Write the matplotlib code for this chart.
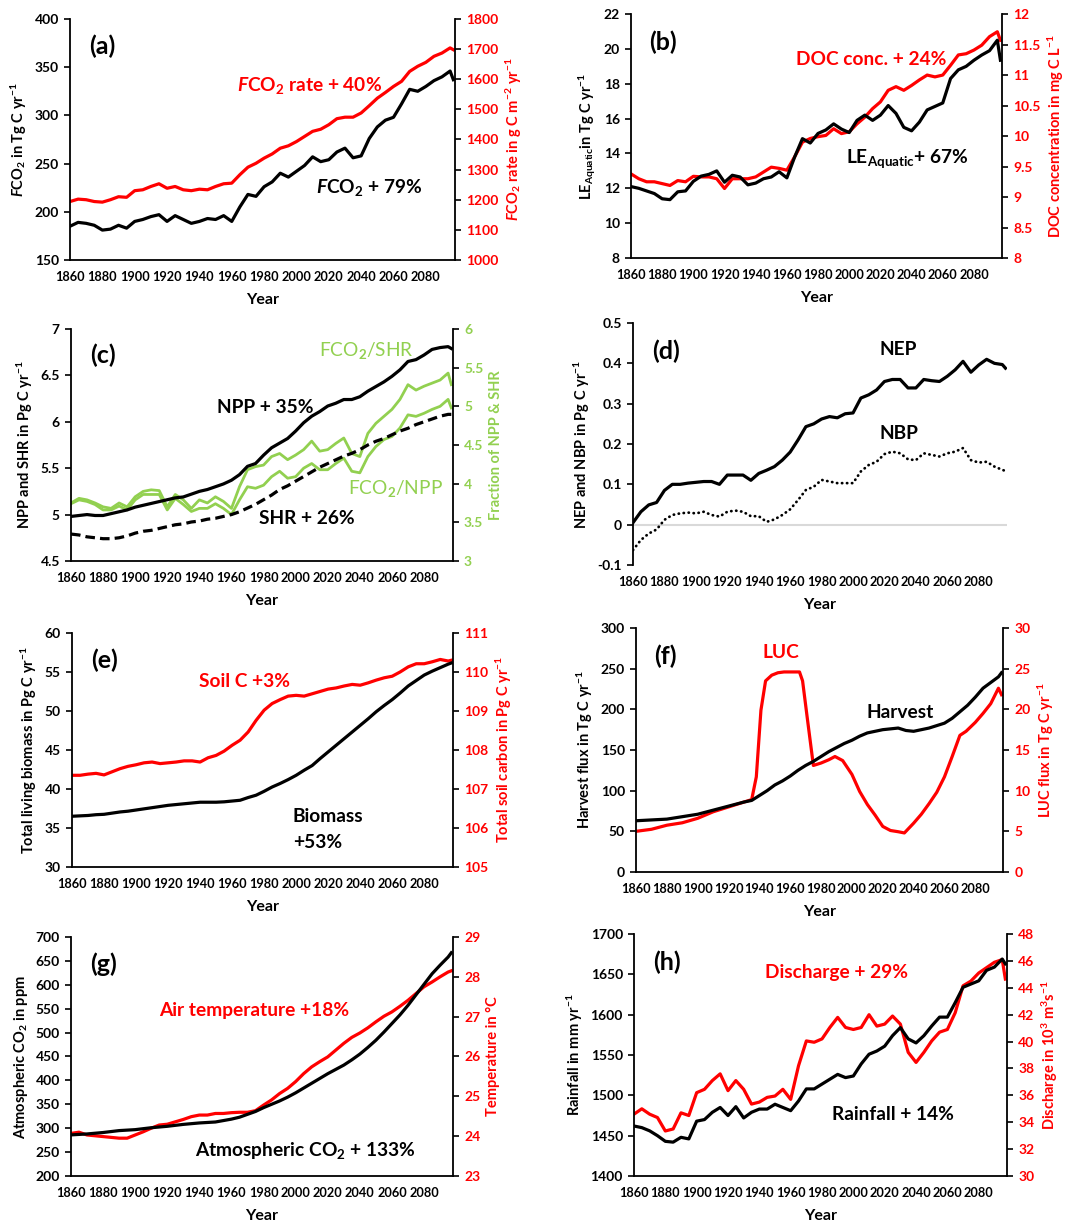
import matplotlib
matplotlib.use("Agg")
import matplotlib.pyplot as plt
from matplotlib.ticker import MultipleLocator, FuncFormatter

plt.rcParams.update({
    "font.family": "Lato",
    "font.weight": "bold",
    "axes.labelweight": "bold",
    "mathtext.fontset": "custom",
    "mathtext.rm": "Lato:bold",
    "mathtext.it": "Lato:bold:italic",
    "mathtext.bf": "Lato:bold",
    "axes.linewidth": 1.3,
})

RED = "#ff0000"
GREEN = "#92d050"

# ---- data (5-year steps) ----
YEARS = [1860, 1865, 1870, 1875, 1880, 1885, 1890, 1895, 1900,
         1905, 1910, 1915, 1920, 1925, 1930, 1935, 1940, 1945, 1950,
         1955, 1960, 1965, 1970, 1975, 1980, 1985, 1990, 1995, 2000,
         2005, 2010, 2015, 2020, 2025, 2030, 2035, 2040, 2045, 2050,
         2055, 2060, 2065, 2070, 2075, 2080, 2085, 2090, 2095, 2097]

# (a)
fco2 = [185, 189, 188, 186, 181, 182, 186, 183, 190,
        192, 195, 197, 190, 196, 192, 188, 190, 193, 192,
        196, 190, 205, 218, 216, 226, 231, 240, 236, 242,
        248, 257, 252, 254, 262, 266, 256, 258, 276, 288,
        295, 298, 312, 327, 325, 330, 336, 340, 346, 337]
fco2_rate = [1194, 1202, 1200, 1194, 1192, 1200, 1210, 1208, 1230,
             1233, 1244, 1253, 1238, 1244, 1233, 1230, 1235, 1233, 1244,
             1253, 1255, 1283, 1308, 1321, 1338, 1352, 1371, 1379, 1393,
             1410, 1427, 1434, 1449, 1469, 1474, 1474, 1488, 1512, 1537,
             1556, 1576, 1593, 1626, 1643, 1656, 1676, 1687, 1704, 1698]

# (b)
le_aquatic = [12.1, 12.0, 11.85, 11.7, 11.4, 11.35, 11.8, 11.85, 12.4,
              12.7, 12.8, 13.0, 12.35, 12.75, 12.65, 12.2, 12.3, 12.55, 12.65,
              12.95, 12.6, 13.8, 14.85, 14.6, 15.15, 15.35, 15.7, 15.4, 15.2,
              15.9, 16.2, 15.9, 16.2, 16.75, 16.3, 15.5, 15.3, 15.8, 16.5,
              16.7, 16.9, 18.3, 18.8, 19.0, 19.35, 19.65, 19.9, 20.5, 19.35]
doc_conc = [9.38, 9.3, 9.25, 9.25, 9.22, 9.19, 9.27, 9.25, 9.34,
            9.33, 9.33, 9.3, 9.14, 9.3, 9.3, 9.3, 9.33, 9.41, 9.49,
            9.47, 9.44, 9.66, 9.9, 9.96, 9.99, 10.01, 10.12, 10.04, 10.07,
            10.2, 10.31, 10.45, 10.56, 10.75, 10.81, 10.75, 10.83, 10.92, 11.0,
            10.97, 11.0, 11.16, 11.33, 11.35, 11.41, 11.49, 11.63, 11.71, 11.57]

# (c)
npp = [4.98, 4.99, 5.0, 4.99, 4.99, 5.01, 5.03, 5.05, 5.08,
       5.1, 5.12, 5.14, 5.16, 5.18, 5.19, 5.22, 5.25, 5.27, 5.3,
       5.33, 5.37, 5.43, 5.52, 5.55, 5.64, 5.72, 5.77, 5.82, 5.9,
       5.99, 6.06, 6.11, 6.17, 6.2, 6.24, 6.24, 6.27, 6.33, 6.38,
       6.43, 6.49, 6.56, 6.65, 6.67, 6.72, 6.78, 6.8, 6.81, 6.79]
shr = [4.79, 4.78, 4.76, 4.75, 4.74, 4.74, 4.75, 4.77, 4.8,
       4.82, 4.83, 4.85, 4.87, 4.89, 4.9, 4.92, 4.93, 4.95, 4.96,
       4.98, 5.0, 5.03, 5.07, 5.11, 5.16, 5.21, 5.27, 5.31, 5.36,
       5.41, 5.46, 5.51, 5.55, 5.59, 5.63, 5.66, 5.7, 5.75, 5.79,
       5.82, 5.86, 5.9, 5.93, 5.97, 6.0, 6.03, 6.06, 6.08, 6.08]
fco2_shr = [3.75, 3.81, 3.79, 3.75, 3.7, 3.68, 3.75, 3.7, 3.83,
            3.9, 3.92, 3.91, 3.7, 3.86, 3.79, 3.68, 3.79, 3.75, 3.83,
            3.77, 3.68, 3.96, 4.18, 4.22, 4.24, 4.35, 4.39, 4.31, 4.37,
            4.44, 4.55, 4.42, 4.44, 4.52, 4.59, 4.39, 4.35, 4.65, 4.78,
            4.87, 4.96, 5.09, 5.28, 5.21, 5.26, 5.3, 5.34, 5.43, 5.28]
fco2_npp = [3.74, 3.79, 3.77, 3.73, 3.66, 3.66, 3.71, 3.66, 3.79,
            3.86, 3.86, 3.86, 3.66, 3.81, 3.73, 3.64, 3.68, 3.68, 3.74,
            3.68, 3.6, 3.79, 3.96, 3.94, 3.98, 4.09, 4.16, 4.07, 4.09,
            4.2, 4.26, 4.18, 4.18, 4.26, 4.33, 4.16, 4.14, 4.35, 4.48,
            4.57, 4.61, 4.72, 4.89, 4.87, 4.91, 4.96, 5.0, 5.09, 4.98]

# (d)
nep = [0.005, 0.032, 0.049, 0.055, 0.085, 0.1, 0.1, 0.103, 0.105,
       0.107, 0.107, 0.1, 0.123, 0.123, 0.123, 0.11, 0.127, 0.135, 0.144,
       0.16, 0.18, 0.21, 0.243, 0.25, 0.262, 0.268, 0.265, 0.275, 0.277,
       0.314, 0.322, 0.334, 0.355, 0.36, 0.36, 0.339, 0.339, 0.36, 0.357,
       0.355, 0.368, 0.384, 0.405, 0.378, 0.396, 0.41, 0.4, 0.397, 0.388]
nbp = [-0.063, -0.038, -0.022, -0.012, 0.012, 0.024, 0.028, 0.03, 0.028,
       0.032, 0.024, 0.02, 0.032, 0.035, 0.032, 0.021, 0.021, 0.007, 0.013,
       0.024, 0.038, 0.061, 0.086, 0.094, 0.111, 0.107, 0.103, 0.103, 0.103,
       0.132, 0.148, 0.156, 0.175, 0.181, 0.177, 0.162, 0.16, 0.177, 0.173,
       0.169, 0.177, 0.181, 0.19, 0.16, 0.154, 0.156, 0.144, 0.136, 0.133]

# (e)
biomass = [36.5, 36.55, 36.6, 36.7, 36.75, 36.9, 37.05, 37.15, 37.3,
           37.45, 37.6, 37.75, 37.9, 38.0, 38.1, 38.2, 38.3, 38.3, 38.3,
           38.35, 38.45, 38.55, 38.9, 39.2, 39.7, 40.25, 40.7, 41.2, 41.75,
           42.4, 43.0, 43.9, 44.75, 45.6, 46.45, 47.3, 48.15, 49.0, 49.9,
           50.7, 51.45, 52.3, 53.2, 53.9, 54.6, 55.1, 55.55, 56.0, 56.15]
soil_c = [107.35, 107.35, 107.38, 107.4, 107.36, 107.44, 107.52, 107.58, 107.62,
          107.67, 107.69, 107.65, 107.67, 107.69, 107.72, 107.72, 107.69, 107.8, 107.86,
          107.97, 108.12, 108.25, 108.46, 108.76, 109.02, 109.19, 109.29, 109.38, 109.4,
          109.38, 109.44, 109.5, 109.56, 109.59, 109.64, 109.68, 109.66, 109.72, 109.79,
          109.85, 109.89, 110.0, 110.13, 110.21, 110.21, 110.26, 110.32, 110.28, 110.3]

# (f)
harvest = [63, 63.5, 64, 64.5, 65, 66.5, 68, 69.5, 71,
           73.5, 76, 78.5, 81, 83.5, 86, 88, 94, 100, 107,
           112, 118, 125, 131, 136, 142, 148, 153, 158, 162,
           167, 171, 173, 175, 176, 177, 174, 173, 175, 177,
           180, 183, 189, 197, 205, 215, 226, 233, 240, 245]
LUC_YEARS = [1860, 1870, 1880, 1890, 1900, 1910, 1920, 1930, 1935, 1938,
             1941, 1944, 1948, 1952, 1956, 1960, 1966, 1968, 1971, 1975,
             1980, 1985, 1989, 1994, 2000, 2005, 2010, 2015, 2020, 2025,
             2030, 2034, 2040, 2045, 2050, 2055, 2060, 2065, 2070, 2074,
             2080, 2085, 2090, 2095, 2097]
luc = [5.0, 5.25, 5.75, 6.05, 6.6, 7.4, 8.0, 8.6, 8.9, 11.7,
       19.9, 23.5, 24.2, 24.5, 24.6, 24.6, 24.6, 23.5, 19.0, 13.1,
       13.4, 13.8, 14.2, 13.7, 12.0, 9.9, 8.3, 7.0, 5.6, 5.1,
       4.95, 4.8, 6.0, 7.1, 8.4, 9.8, 11.7, 14.2, 16.8, 17.3,
       18.4, 19.5, 20.7, 22.6, 21.8]

# (g)
co2 = [286, 287, 288, 289.5, 291, 293, 295, 296, 297,
       299, 301, 302.5, 304, 306, 308, 309.5, 311, 312, 313,
       316, 319, 323, 329, 335, 343, 350, 357, 365, 374,
       384, 394, 404, 414, 423, 432, 443, 455, 469, 484,
       501, 519, 537, 557, 579, 601, 623, 641, 658, 667]
air_temp = [24.07, 24.1, 24.03, 24.01, 23.99, 23.97, 23.95, 23.95, 24.03,
            24.11, 24.2, 24.28, 24.3, 24.36, 24.42, 24.49, 24.53, 24.53, 24.57,
            24.57, 24.59, 24.6, 24.6, 24.64, 24.78, 24.91, 25.07, 25.2, 25.37,
            25.57, 25.74, 25.87, 25.99, 26.16, 26.33, 26.48, 26.59, 26.72, 26.87,
            27.01, 27.12, 27.26, 27.41, 27.58, 27.75, 27.87, 28.0, 28.12, 28.15]

# (h)
rainfall = [1462, 1460, 1456, 1450, 1443, 1442, 1448, 1446, 1468,
            1470, 1479, 1485, 1475, 1486, 1472, 1479, 1483, 1483, 1489,
            1485, 1481, 1493, 1508, 1508, 1514, 1520, 1526, 1522, 1524,
            1539, 1551, 1555, 1561, 1574, 1584, 1570, 1565, 1574, 1586,
            1597, 1597, 1615, 1634, 1638, 1642, 1655, 1659, 1669, 1663]
discharge = [34.6, 35.0, 34.6, 34.35, 33.35, 33.5, 34.7, 34.5, 36.2,
             36.45, 37.1, 37.6, 36.35, 37.1, 36.45, 35.35, 35.5, 35.85, 35.95,
             36.45, 35.7, 38.2, 40.05, 39.95, 40.2, 41.05, 41.8, 41.05, 40.9,
             41.05, 42.0, 41.15, 41.3, 41.9, 41.3, 39.2, 38.45, 39.2, 40.05,
             40.7, 40.9, 42.15, 44.15, 44.5, 45.1, 45.5, 45.9, 46.1, 44.65]

YEAR_TICKS = [1860, 1880, 1900, 1920, 1940, 1960, 1980, 2000, 2020, 2040, 2060, 2080]

FMT = FuncFormatter(lambda v, p: f"{v:g}")
LW = 2.3
ANN = 13.8
LBL = 10.5


def base(rect, ylim, ystep, ylabel, letter, bottom_spine=True):
    ax = fig.add_axes(rect)
    ax.set_xlim(1860, 2098)
    ax.set_xticks(YEAR_TICKS)
    ax.set_ylim(*ylim)
    ax.yaxis.set_major_locator(MultipleLocator(ystep))
    ax.yaxis.set_major_formatter(FMT)
    ax.tick_params(axis="x", length=0, labelsize=9.2, pad=8)
    ax.tick_params(axis="y", length=4, width=1.2, labelsize=10, pad=4)
    ax.spines["top"].set_visible(False)
    ax.spines["right"].set_visible(False)
    if not bottom_spine:
        ax.spines["bottom"].set_visible(False)
    ax.set_ylabel(ylabel, fontsize=LBL)
    ax.set_xlabel("Year", fontsize=11.5, labelpad=7)
    ax.text(0.05, 0.885, letter, transform=ax.transAxes, fontsize=18,
            fontweight="bold", va="center", ha="left")
    return ax


def twin(ax, ylim, ystep, ylabel, color):
    ax2 = ax.twinx()
    ax2.set_ylim(*ylim)
    ax2.yaxis.set_major_locator(MultipleLocator(ystep))
    ax2.yaxis.set_major_formatter(FMT)
    ax2.tick_params(axis="y", length=4, width=1.2, labelsize=10, pad=4,
                    colors=color)
    ax2.tick_params(axis="y", color="black")
    ax2.spines["top"].set_visible(False)
    ax2.spines["left"].set_visible(False)
    ax2.spines["bottom"].set_visible(False)
    ax2.spines["right"].set_linewidth(1.3)
    ax2.set_ylabel(ylabel, fontsize=LBL, color=color)
    return ax2


fig = plt.figure(figsize=(10.72, 12.24), dpi=100)

# (a)
ax = base([0.0653, 0.7876, 0.3591, 0.1969], (150, 400), 50,
          "$F$CO$_2$ in Tg C yr$^{-1}$", "(a)")
ax2 = twin(ax, (1000, 1800), 100, "$F$CO$_2$ rate in g C m$^{-2}$ yr$^{-1}$", RED)
ax2.plot(YEARS, fco2_rate, color=RED, lw=LW)
ax.plot(YEARS, fco2, color="black", lw=LW, zorder=5)
ax.set_zorder(ax2.get_zorder() + 1); ax.patch.set_visible(False)
ax.text(2008, 331, "$F$CO$_2$ rate + 40%", color=RED, fontsize=ANN, ha="center", va="center")
ax.text(2045, 225, "$F$CO$_2$ + 79%", color="black", fontsize=ANN, ha="center", va="center")

# (b)
ax = base([0.5886, 0.7892, 0.3461, 0.1993], (8, 22), 2,
          "LE$_{\\mathrm{Aquatic}}$in Tg C yr$^{-1}$", "(b)")
ax2 = twin(ax, (8, 12), 0.5, "DOC concentration in mg C L$^{-1}$", RED)
ax2.plot(YEARS, doc_conc, color=RED, lw=LW)
ax.plot(YEARS, le_aquatic, color="black", lw=LW)
ax.set_zorder(ax2.get_zorder() + 1); ax.patch.set_visible(False)
ax.text(2014, 19.4, "DOC conc. + 24%", color=RED, fontsize=ANN, ha="center", va="center")
ax.text(2037, 13.7, "LE$_{\\mathrm{Aquatic}}$+ 67%", color="black", fontsize=ANN,
        ha="center", va="center")

# (c)
ax = base([0.0662, 0.5417, 0.3563, 0.1895], (4.5, 7), 0.5,
          "NPP and SHR in Pg C yr$^{-1}$", "(c)")
ax2 = twin(ax, (3, 6), 0.5, "Fraction of NPP & SHR", GREEN)
ax2.plot(YEARS, fco2_shr, color=GREEN, lw=2.0)
ax2.plot(YEARS, fco2_npp, color=GREEN, lw=2.0)
ax.plot(YEARS, npp, color="black", lw=LW)
ax.plot(YEARS, shr, color="black", lw=LW, ls=(0, (3, 1.6)))
ax.set_zorder(ax2.get_zorder() + 1); ax.patch.set_visible(False)
ax.text(2044, 6.77, "FCO$_2$/SHR", color=GREEN, fontsize=ANN, ha="center", va="center",
        fontweight="normal")
ax.text(1981, 6.15, "NPP + 35%", color="black", fontsize=ANN, ha="center", va="center")
ax.text(2062, 5.28, "FCO$_2$/NPP", color=GREEN, fontsize=ANN, ha="center", va="center",
        fontweight="normal")
ax.text(2007, 4.96, "SHR + 26%", color="black", fontsize=ANN, ha="center", va="center")

# (d)
ax = base([0.5905, 0.5384, 0.3489, 0.1977], (-0.1, 0.5), 0.1,
          "NEP and NBP in Pg C yr$^{-1}$", "(d)", bottom_spine=False)
ax.axhline(0, color="#d9d9d9", lw=1.5, zorder=1)
ax.plot(YEARS, nep, color="black", lw=LW)
ax.plot(YEARS, nbp, color="black", lw=2.0, ls=(0, (0.1, 1.7)), dash_capstyle="round")
ax.text(2029, 0.435, "NEP", color="black", fontsize=ANN, ha="center", va="center")
ax.text(2029, 0.227, "NBP", color="black", fontsize=ANN, ha="center", va="center")

# (e)
ax = base([0.0672, 0.2917, 0.3554, 0.1912], (30, 60), 5,
          "Total living biomass in Pg C yr$^{-1}$", "(e)")
ax2 = twin(ax, (105, 111), 1, "Total soil carbon in Pg C yr$^{-1}$", RED)
ax2.plot(YEARS, soil_c, color=RED, lw=LW)
ax.plot(YEARS, biomass, color="black", lw=LW)
ax.set_zorder(ax2.get_zorder() + 1); ax.patch.set_visible(False)
ax.text(1968, 53.8, "Soil C +3%", color=RED, fontsize=ANN, ha="center", va="center")
ax.text(1998, 34.8, "Biomass\n+53%", color="black", fontsize=ANN, ha="left", va="center",
        linespacing=1.6)

# (f)
ax = base([0.5933, 0.2876, 0.3424, 0.1993], (0, 300), 50,
          "Harvest flux in Tg C yr$^{-1}$", "(f)")
ax2 = twin(ax, (0, 30), 5, "LUC flux in Tg C yr$^{-1}$", RED)
ax2.plot(LUC_YEARS, luc, color=RED, lw=LW)
ax.plot(YEARS, harvest, color="black", lw=LW)
ax.set_zorder(ax2.get_zorder() + 1); ax.patch.set_visible(False)
ax.text(1954, 270, "LUC", color=RED, fontsize=ANN, ha="center", va="center")
ax.text(2031, 196, "Harvest", color="black", fontsize=ANN, ha="center", va="center")

# (g)
ax = base([0.0662, 0.0392, 0.3563, 0.1953], (200, 700), 50,
          "Atmospheric CO$_2$ in ppm", "(g)")
ax2 = twin(ax, (23, 29), 1, "Temperature in °C", RED)
ax2.plot(YEARS, air_temp, color=RED, lw=LW)
ax.plot(YEARS, co2, color="black", lw=LW)
ax.set_zorder(ax2.get_zorder() + 1); ax.patch.set_visible(False)
ax.text(1974, 547, "Air temperature +18%", color=RED, fontsize=ANN, ha="center", va="center")
ax.text(2006, 254, "Atmospheric CO$_2$ + 133%", color="black", fontsize=ANN,
        ha="center", va="center")

# (h)
ax = base([0.5914, 0.0392, 0.3479, 0.1977], (1400, 1700), 50,
          "Rainfall in mm yr$^{-1}$", "(h)")
ax2 = twin(ax, (30, 48), 2, "Discharge in 10$^3$ m$^3$s$^{-1}$", RED)
ax2.plot(YEARS, discharge, color=RED, lw=LW)
ax.plot(YEARS, rainfall, color="black", lw=LW)
ax.set_zorder(ax2.get_zorder() + 1); ax.patch.set_visible(False)
ax.text(1989, 1652, "Discharge + 29%", color=RED, fontsize=ANN, ha="center", va="center")
ax.text(2025, 1476, "Rainfall + 14%", color="black", fontsize=ANN, ha="center", va="center")

fig.savefig("out.png", dpi=100)
